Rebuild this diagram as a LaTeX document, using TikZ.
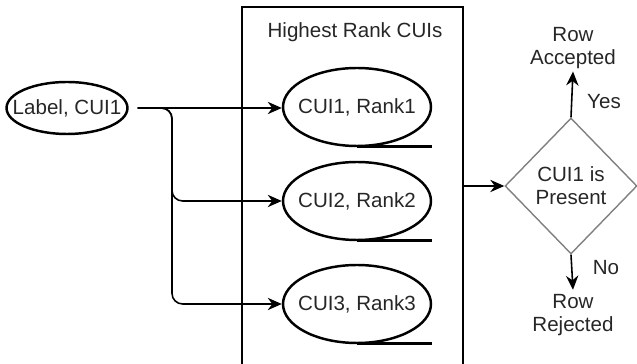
\documentclass[tikz,border=0pt]{standalone}
\usepackage{fontspec}
\setmainfont{Liberation Sans}
\usetikzlibrary{shapes.geometric,arrows.meta}
\begin{document}
\begin{tikzpicture}[x=0.02cm,y=-0.02cm,
  every node/.style={font=\fontsize{11.7}{13.2}\selectfont, text=black!85},
  ell/.style={draw, ellipse, line width=1.4pt, inner sep=0pt},
  arr/.style={-{Stealth[length=8pt,width=7pt]}, line width=0.9pt},
  thin/.style={line width=0.8pt}]
\useasboundingbox (0,0) rectangle (637,364);
% container
\node[draw, thin, minimum width=4.42cm, minimum height=7.46cm, inner sep=0pt] (box) at (352.5,193.5) {};
\node (title) at (355,32) {Highest Rank CUIs};
% left ellipse
\node[ell, minimum width=2.42cm, minimum height=1.04cm] (lab) at (67,108) {\makebox[0pt]{Label, CUI1}};
% rank ellipses
\node[ell, minimum width=2.96cm, minimum height=1.56cm] (c1) at (357,107) {\makebox[0pt]{CUI1, Rank1}};
\node[ell, minimum width=2.96cm, minimum height=1.56cm] (c2) at (357,201) {\makebox[0pt]{CUI2, Rank2}};
\node[ell, minimum width=2.96cm, minimum height=1.56cm] (c3) at (357,304) {\makebox[0pt]{CUI3, Rank3}};
\foreach \n in {c1,c2,c3}{
  \draw[line width=1.4pt] ([yshift=0.5pt]\n.south) -- ([yshift=0.5pt]\n.south -| \n.east);
}
% diamond
\node[draw=black!50, thin, diamond, minimum width=2.64cm, minimum height=2.72cm, inner sep=0pt, align=center] (dia) at (571,186) {CUI1 is\\Present};
\node[align=center] (acc) at (573,48) {Row\\Accepted};
\node[align=center] (rej) at (573,315) {Row\\Rejected};
\node (yes) at (604,102) {Yes};
\node (no) at (606,268) {No};
% connectors
\coordinate (j) at (172,108);
\draw[arr] ([xshift=5pt]lab.east) -- (c1.west |- lab.east);
\draw[arr, rounded corners=6pt] ([xshift=5pt]lab.east) -- (j) |- (c2.west);
\draw[arr, rounded corners=6pt] ([xshift=5pt]lab.east) -- (j) |- (c3.west);
\draw[arr] (box.east |- dia.west) -- (dia.west);
\draw[arr] (dia.north) -- ([yshift=2pt]acc.south);
\draw[arr] (dia.south) -- ([yshift=-1pt]rej.north);
\end{tikzpicture}
\end{document}
